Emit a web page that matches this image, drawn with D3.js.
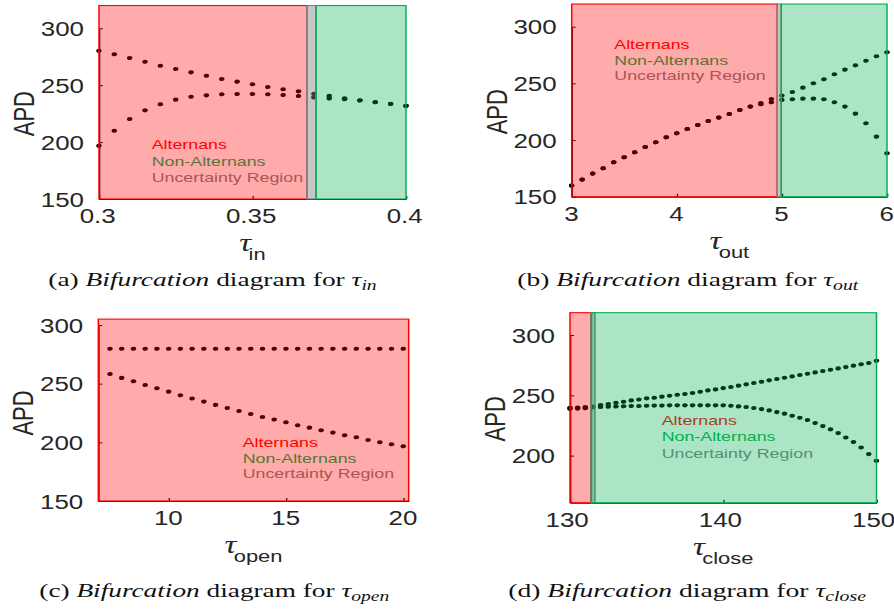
<!DOCTYPE html>
<html>
<head>
<meta charset="utf-8">
<script src="https://cdn.jsdelivr.net/npm/d3@7"></script>
<style>
  body { margin: 0; background: #fff; }
  svg { display: block; }
</style>
</head>
<body>
<svg id="fig" width="894" height="610"></svg>
<script>
(function(){
    // ---- values ----
    var tauIn   = [0.300,0.305,0.310,0.315,0.320,0.325,0.330,0.335,0.340,0.345,0.350,
                   0.355,0.360,0.365,0.370,0.375,0.380,0.385,0.390,0.395,0.400];
    var apdInHi = [280.3,277.2,273.9,270.6,267.1,264.2,261.3,258.3,255.4,253.1,250.8,
                   248.4,246.4,244.6,242.4,240.6,238.5,236.8,235.2,233.7,232.0];
    var apdInLo = [196.8,210.0,220.3,227.9,233.2,237.3,239.9,241.1,242.0,242.3,242.3,
                   242.0,241.4,240.5,239.3,238.4,237.6,236.5,235.0,233.5,231.8];

    var tauOut   = [3.0,3.1,3.2,3.3,3.4,3.5,3.6,3.7,3.8,3.9,4.0,4.1,4.2,4.3,4.4,4.5,
                    4.6,4.7,4.8,4.9,5.0,5.1,5.2,5.3,5.4,5.5,5.6,5.7,5.8,5.9,6.0];
    var apdOutHi = [159.8,165.1,170.4,175.1,180.4,184.8,189.2,193.9,198.0,202.5,206.0,
                    209.8,213.3,216.8,219.8,223.0,226.5,229.5,232.6,236.2,239.2,242.4,
                    246.2,250.1,253.6,258.0,262.1,265.9,270.0,273.9,277.4];
    var apdOutLo = [159.8,165.1,170.4,175.1,180.4,184.8,189.2,193.9,198.0,202.5,206.0,
                    209.8,213.3,216.8,219.8,223.0,226.5,229.5,231.6,233.3,235.4,236.0,
                    236.5,236.5,236.0,233.3,229.5,223.3,214.8,203.0,188.3];

    var tauOpen   = [7.5,8.0,8.5,9.0,9.5,10.0,10.5,11.0,11.5,12.0,12.5,13.0,13.5,
                     14.0,14.5,15.0,15.5,16.0,16.5,17.0,17.5,18.0,18.5,19.0,19.5,20.0];
    var apdOpenHi = [279.8,279.8,279.8,279.8,279.8,279.8,279.8,279.8,279.8,279.8,279.8,
                     279.8,279.8,279.8,279.8,279.8,279.8,279.8,279.8,279.8,279.8,279.8,
                     279.8,279.8,279.8,279.8];
    var apdOpenLo = [258.3,254.9,252.0,248.9,246.1,243.2,240.1,237.3,234.7,231.9,229.3,
                     226.7,224.2,221.6,219.4,217.1,214.6,212.5,210.3,208.3,206.0,204.3,
                     202.0,200.1,198.4,196.7];

    var tauClose   = [130,130.5,131,131.5,132,132.5,133,133.5,134,134.5,135,135.5,136,
                      136.5,137,137.5,138,138.5,139,139.5,140,140.5,141,141.5,142,142.5,
                      143,143.5,144,144.5,145,145.5,146,146.5,147,147.5,148,148.5,149,
                      149.5,150];
    var apdCloseHi = [239.6,239.9,240.2,240.6,241.9,242.8,243.9,244.7,245.8,246.6,247.5,
                      248.0,248.9,249.7,250.5,251.1,251.9,253.0,254.1,254.9,256.0,256.9,
                      258.0,259.1,260.2,261.3,262.4,263.5,264.6,265.7,266.8,267.9,269.0,
                      270.1,271.2,272.3,273.4,274.6,275.7,276.8,278.7];
    var apdCloseLo = [238.8,239.0,239.3,240.2,240.3,240.6,240.8,240.9,241.1,241.2,241.4,
                      241.5,241.5,241.7,241.7,241.7,241.7,241.7,241.7,241.7,241.7,241.4,
                      240.8,240.3,239.5,238.6,237.5,236.1,234.8,233.1,231.4,229.5,227.0,
                      224.5,221.8,218.7,215.1,211.3,206.8,201.3,195.8];

    // regions along x: alternans / uncertainty / non-alternans
    var altIn  = [0.3, 0.3677],  uncIn  = [0.3677, 0.3707], nonIn  = [0.3707, 0.4];
    var altOut = [3, 4.956],     uncOut = [4.956, 4.994],   nonOut = [4.994, 6];
    var altOpen = [7, 20.23];
    var altClose = [130, 131.37], uncClose = [131.37, 131.63], nonClose = [131.4, 150];

    var ticksY = [150, 200, 250, 300];
    var ticksIn = [0.3, 0.35, 0.4],  labelsIn = ['0.3', '0.35', '0.4'];
    var ticksOut = [3, 4, 5, 6],     labelsOut = ['3', '4', '5', '6'];
    var ticksOpen = [10, 15, 20],    labelsOpen = ['10', '15', '20'];
    var ticksClose = [130, 140, 150], labelsClose = ['130', '140', '150'];

    var legendNames = ['Alternans', 'Non-Alternans', 'Uncertainty Region'];

    // ---- layout ----
    var SX = 1.33;            // picture is stretched sideways
    function vx(px){ return px / SX; }

    var sans = "'Liberation Sans', Arial, Helvetica, sans-serif";
    var serif = "'Liberation Serif', 'Times New Roman', serif";
    var ink = '#262626';
    var colAlt = '#ff0000', colNon = '#00b050', colUnc = '#808080';

    var panels = [
        {id:'a', sub:'in', x:tauIn, hi:apdInHi, lo:apdInLo, xdom:[0.3,0.4],
         xt:ticksIn, xl:labelsIn, yt:ticksY, lshift:-2,
         left:99, right:406, y300:28.3, bottom:199, ymin:150, ytop:320,
         alt:altIn, unc:uncIn, non:nonIn,
         leg:[151.7, 149.3, 16.4], cap:[48.3, 286, 328.4]},
        {id:'b', sub:'out', x:tauOut, hi:apdOutHi, lo:apdOutLo, xdom:[3,6],
         xt:ticksOut, xl:labelsOut, yt:ticksY, lshift:-1,
         left:571.7, right:887, y300:26.7, bottom:196.7, ymin:150, ytop:320,
         alt:altOut, unc:uncOut, non:nonOut,
         leg:[614.3, 49.3, 15.4], cap:[517.3, 286, 341]},
        {id:'c', sub:'open', x:tauOpen, hi:apdOpenHi, lo:apdOpenLo, xdom:[7,20.23],
         xt:ticksOpen, xl:labelsOpen, yt:ticksY, lshift:-1,
         left:98.3, right:408.7, y300:325, bottom:501, ymin:150, ytop:305,
         alt:altOpen, unc:null, non:null,
         leg:[242.7, 447.3, 15.5], cap:[39.3, 597, 350]},
        {id:'d', sub:'close', x:tauClose, hi:apdCloseHi, lo:apdCloseLo, xdom:[130,150],
         xt:ticksClose, xl:labelsClose, yt:[200, 250, 300], lshift:-3.5,
         left:570, right:876.5, y300:335, bottom:502.7, ymin:161, ytop:318.5,
         alt:altClose, unc:uncClose, non:nonClose,
         leg:[661.7, 425, 16.3], cap:[508.3, 597, 357.7]}
    ];

    var svg = d3.select('#fig');
    var root = svg.append('g').attr('transform', 'scale(' + SX + ',1)');

    panels.forEach(drawPanel);

    function drawPanel(p){
        var g = root.append('g').attr('class', 'panel-' + p.id);

        var x = d3.scaleLinear().domain(p.xdom).range([vx(p.left), vx(p.right)]);
        var y = d3.scaleLinear().domain([p.ymin, 300]).range([p.bottom, p.y300]);

        // dots first, the shaded regions sit on top of them
        var pts = [];
        p.x.forEach(function(v, i){
            pts.push([v, p.hi[i]]);
            pts.push([v, p.lo[i]]);
        });
        g.append('g').selectAll('circle')
            .data(pts)
            .enter().append('circle')
            .attr('cx', function(d){ return x(d[0]); })
            .attr('cy', function(d){ return y(d[1]); })
            .attr('r', 2.05)
            .style('fill', '#000');

        // axes
        var ax = g.append('g')
            .attr('transform', 'translate(0,' + p.bottom + ')')
            .call(d3.axisBottom(x).tickValues(p.xt)
                .tickFormat(function(d, i){ return p.xl[i]; })
                .tickSize(-3).tickSizeOuter(0));
        var ay = g.append('g')
            .attr('transform', 'translate(' + x(p.xdom[0]) + ',0)')
            .call(d3.axisLeft(y).tickValues(p.yt)
                .tickSize(-vx(4)).tickSizeOuter(0).tickPadding(vx(15)));

        [ax, ay].forEach(function(a){
            a.attr('font-family', sans).attr('font-size', 19.5);
            a.selectAll('path, line').style('stroke', '#111');
            a.selectAll('text').style('fill', ink);
        });
        ax.selectAll('text').attr('y', 24.5).attr('dy', 0).attr('x', vx(p.lshift));
        ay.selectAll('text').attr('dy', '0.36em');

        // axis titles
        g.append('text')
            .attr('transform', 'translate(' + vx(p.left - 75.5) + ',' + ((p.bottom + p.y300) / 2) + ') rotate(-90)')
            .attr('text-anchor', 'middle')
            .attr('dy', '0.36em')
            .style('font-family', sans).style('font-size', '22px').style('fill', ink)
            .text('APD');

        var xt = g.append('text')
            .attr('x', vx((p.left + p.right) / 2))
            .attr('y', p.bottom + 52)
            .attr('text-anchor', 'middle')
            .style('font-family', sans).style('fill', ink);
        xt.append('tspan').style('font-family', serif).style('font-style', 'italic')
            .style('font-size', '25px').text('τ');
        xt.append('tspan').attr('dx', -2).attr('dy', 9).style('font-size', '16.5px').text(p.sub);

        // legend text (under the shading, so it picks up the tint)
        legendNames.forEach(function(name, i){
            g.append('text')
                .attr('x', vx(p.leg[0]))
                .attr('y', p.leg[1] + i * p.leg[2])
                .style('font-family', sans).style('font-size', '13.4px')
                .style('fill', [colAlt, colNon, colUnc][i])
                .text(name);
        });

        // shaded regions
        var y0 = y(p.ymin), y1 = y(p.ytop);
        function region(r, col, fill){
            if (!r) return;
            g.append('rect')
                .attr('x', x(r[0])).attr('y', y1)
                .attr('width', x(r[1]) - x(r[0])).attr('height', y0 - y1)
                .style('fill', fill)
                .style('stroke', col).style('stroke-width', 1.1);
        }
        region(p.alt, colAlt, 'rgba(255,0,0,0.33)');
        region(p.unc, colUnc, 'rgba(128,128,128,0.45)');
        region(p.non, colNon, 'rgba(0,176,80,0.33)');

        // caption
        var cap = g.append('text')
            .attr('x', vx(p.cap[0])).attr('y', p.cap[1])
            .attr('textLength', vx(p.cap[2])).attr('lengthAdjust', 'spacingAndGlyphs')
            .style('font-family', serif).style('font-size', '19.5px').style('fill', '#111');
        cap.append('tspan').text('(' + p.id + ') ');
        cap.append('tspan').style('font-style', 'italic').text('Bifurcation');
        cap.append('tspan').text(' diagram for ');
        cap.append('tspan').style('font-style', 'italic').text('τ');
        cap.append('tspan').attr('dy', 4).style('font-style', 'italic').style('font-size', '14px').text(p.sub);
    }
})();
</script>
</body>
</html>
